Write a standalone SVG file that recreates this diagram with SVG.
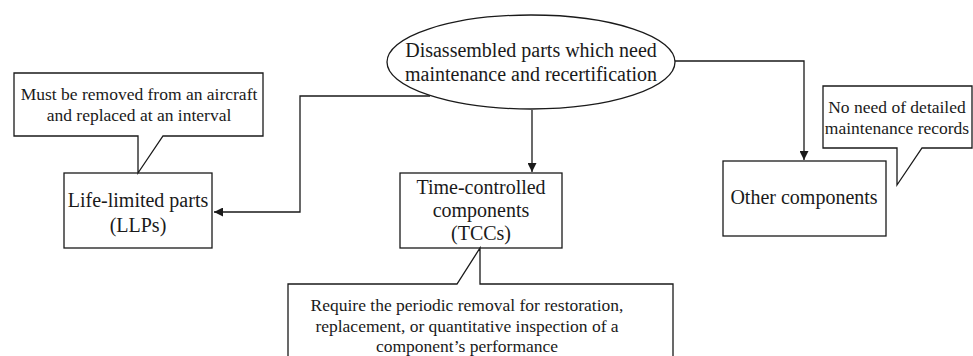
<svg xmlns="http://www.w3.org/2000/svg" width="973" height="356" viewBox="0 0 973 356" font-family="Liberation Serif, Times New Roman, serif">
  <style>
    .shape { fill: #ffffff; stroke: #1a1a1a; stroke-width: 1.3; }
    .wire { fill: none; stroke: #1a1a1a; stroke-width: 1.3; }
  </style>
  <defs>
    <marker id="arrow" viewBox="0 0 10 10" refX="10" refY="5" markerWidth="9" markerHeight="9" markerUnits="userSpaceOnUse" orient="auto">
      <path d="M0,0 L10,5 L0,10 Z" fill="#1a1a1a"/>
    </marker>
  </defs>
  <rect width="973" height="356" fill="#ffffff"/>

  <!-- connectors -->
  <g id="connectors">
    <polyline class="wire" points="430,96 300,96 300,212 214,212" marker-end="url(#arrow)"/>
    <polyline class="wire" points="532,110 532,172" marker-end="url(#arrow)"/>
    <polyline class="wire" points="675,61 804,61 804,160" marker-end="url(#arrow)"/>
  </g>

  <!-- root ellipse -->
  <g id="root" font-size="20" fill="#1a1a1a" text-anchor="middle">
    <ellipse class="shape" cx="531" cy="62" rx="144" ry="47"/>
    <text x="531" y="57">Disassembled parts which need</text>
    <text x="531" y="81">maintenance and recertification</text>
  </g>

  <!-- life-limited parts -->
  <g id="llp" font-size="20" fill="#1a1a1a" text-anchor="middle">
    <rect class="shape" x="64" y="173" width="148" height="75"/>
    <text x="138" y="207">Life-limited parts</text>
    <text x="138" y="232">(LLPs)</text>
  </g>
  <g id="llp-note" font-size="17.5" fill="#1a1a1a" text-anchor="middle">
    <path class="shape" d="M14,73 H263 V136 H163 L138,173 V136 H14 Z"/>
    <text x="139" y="100">Must be removed from an aircraft</text>
    <text x="139" y="121">and replaced at an interval</text>
  </g>

  <!-- time-controlled components -->
  <g id="tcc" font-size="20" fill="#1a1a1a" text-anchor="middle">
    <rect class="shape" x="400" y="173" width="162" height="75"/>
    <text x="481" y="194">Time-controlled</text>
    <text x="481" y="217">components</text>
    <text x="481" y="240">(TCCs)</text>
  </g>
  <g id="tcc-note" font-size="17.5" fill="#1a1a1a" text-anchor="middle">
    <path class="shape" d="M288,360 V284 H457 L480,248 V284 H673 V360"/>
    <text x="467" y="311">Require the periodic removal for restoration,</text>
    <text x="467" y="332">replacement, or quantitative inspection of a</text>
    <text x="467" y="352">component&#8217;s performance</text>
  </g>

  <!-- other components -->
  <g id="other" font-size="20" fill="#1a1a1a" text-anchor="middle">
    <rect class="shape" x="723" y="161" width="163" height="75"/>
    <text x="804" y="204">Other components</text>
  </g>
  <g id="other-note" font-size="17.5" fill="#1a1a1a" text-anchor="middle">
    <path class="shape" d="M823,86 H972 V148 H922 L897,185 V148 H823 Z"/>
    <text x="897" y="113">No need of detailed</text>
    <text x="897" y="134">maintenance records</text>
  </g>
</svg>
